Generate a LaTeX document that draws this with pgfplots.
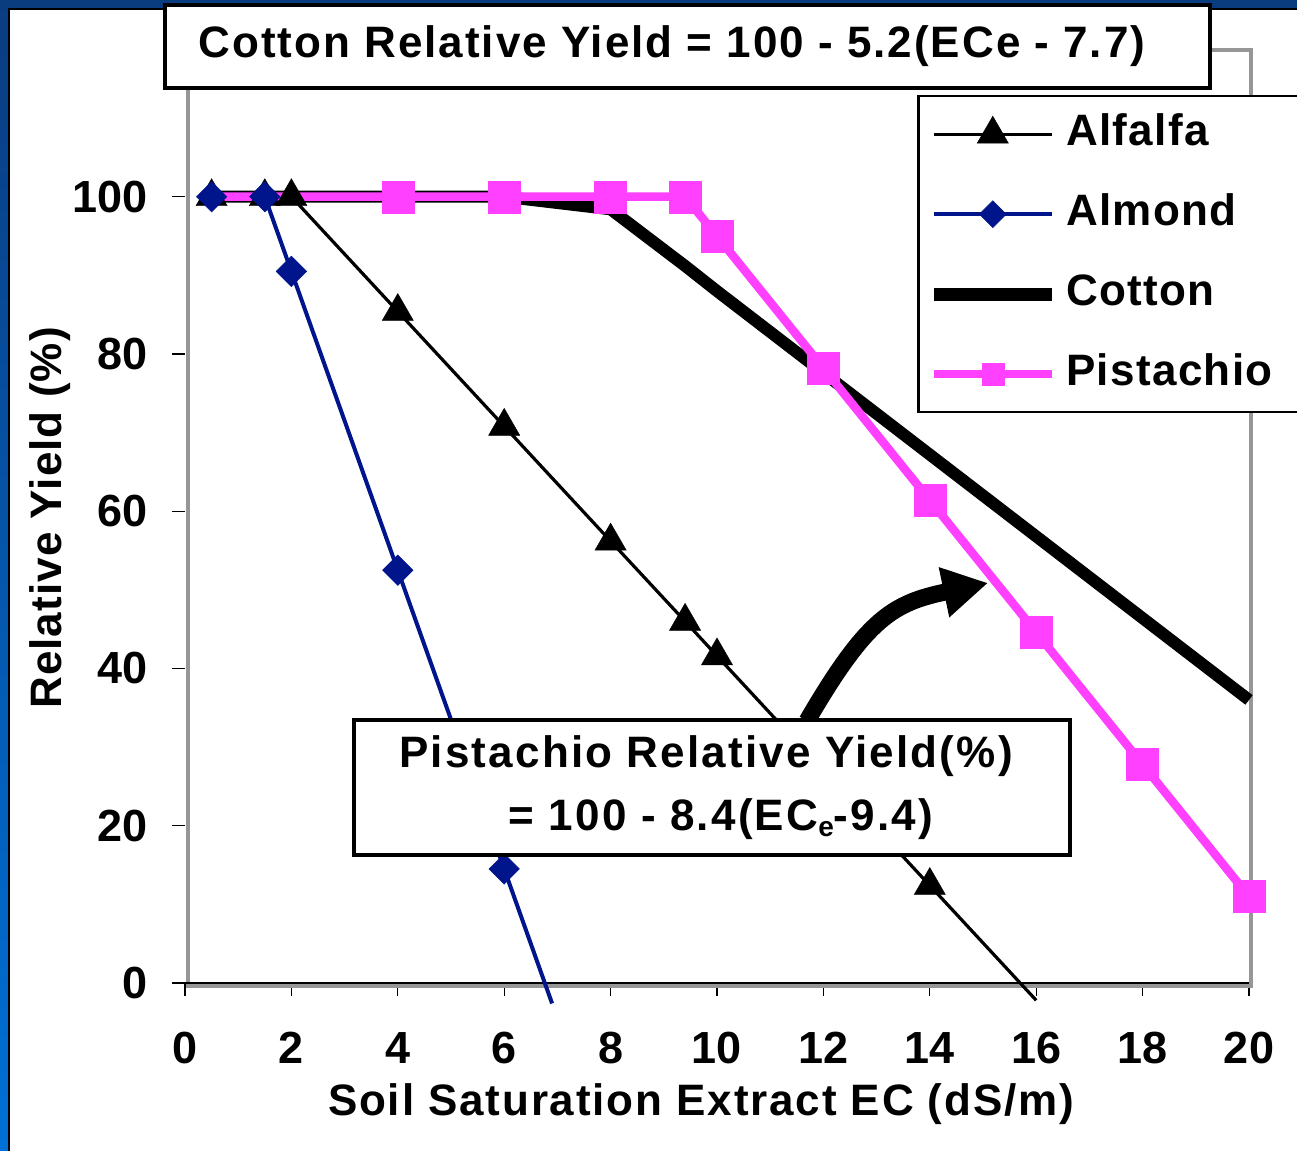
\documentclass[border=0pt]{standalone}
\usepackage{fontspec}
\setmainfont{Liberation Sans}
\newfontfamily\lsTitle[LetterSpace=4.5]{Liberation Sans}
\newfontfamily\lsX[LetterSpace=4.2]{Liberation Sans}
\newfontfamily\lsBox[LetterSpace=5]{Liberation Sans}
\newfontfamily\lsY[LetterSpace=2.5]{Liberation Sans}
\newfontfamily\lsLeg[LetterSpace=3]{Liberation Sans}
\usepackage{pgfplots}
\pgfplotsset{compat=1.18}
\usetikzlibrary{arrows.meta}
\definecolor{almondblue}{RGB}{0,20,140}
\definecolor{pistmag}{RGB}{255,64,255}
\definecolor{framegray}{RGB}{150,150,150}
\definecolor{bgtop}{RGB}{10,60,128}
\definecolor{bgbot}{RGB}{0,112,214}
\newcommand{\bigsize}{\fontsize{44}{52}\selectfont\bfseries}
\newcommand{\tickfont}{\fontsize{45}{54}\selectfont\bfseries}
\begin{document}
\begin{tikzpicture}
\useasboundingbox (-185pt,-167pt) rectangle (1112pt,983pt);
\shade[top color=bgtop, bottom color=bgbot] (-185pt,-167pt) rectangle (1112pt,983pt);
\fill[white] (-177pt,-200pt) rectangle (1200pt,975pt);
\draw[black, line width=2pt] (-176pt,-200pt) -- (-176pt,974pt) -- (1200pt,974pt);
\begin{axis}[
  scale only axis, width=1064pt, height=933pt,
  xmin=0, xmax=20, ymin=0, ymax=118.66,
  clip=false,
  axis line style={draw=none},
  xtick={0,2,...,20}, ytick={0,20,...,100},
  tick pos=left, tick align=outside, major tick length=13pt,
  tick style={black, line width=1.2pt},
  /pgf/number format/assume math mode=true,
  ticklabel style={font=\tickfont},
  xticklabel style={anchor=north, inner sep=0pt, yshift=-36pt},
  yticklabel style={anchor=east, inner sep=0pt, xshift=-24pt},
  xlabel={Soil Saturation Extract EC (dS/m)},
  ylabel={Relative Yield (\%)},
  xlabel style={font=\lsX\bigsize, at={(axis description cs:0.485,-0.1415)}, anchor=base},
  ylabel style={font=\lsY\bigsize, at={(axis description cs:-0.1156,0.4984)}, anchor=base},
  legend style={at={(0.688,0.9518)}, anchor=north west, draw=black, line width=2.5pt, fill=white,
    inner xsep=9pt, inner ysep=17pt, font=\lsLeg\bigsize, row sep=38pt, column sep=8pt,
    nodes={inner sep=0pt, text height=32pt, text depth=10pt}},
  legend cell align=left,
  legend image code/.code={\draw[mark repeat=2,mark phase=2,#1] plot coordinates {(0pt,0pt) (59pt,0pt) (118pt,0pt)};},
]
\draw[framegray, line width=4.5pt] ([shift={(3pt,-3pt)}]rel axis cs:0,0) rectangle ([shift={(2pt,0pt)}]rel axis cs:1,1);
\draw[black, line width=2pt] (rel axis cs:0,0) -- (rel axis cs:1,0);
% lines
\addplot[black, line width=3.2pt, forget plot] coordinates {(0.5,100) (1.5,100) (2,100) (4,85.4) (6,70.8) (8,56.2) (9.4,46) (10,41.6) (12,27) (14,12.4) (16,-2.2)};
\addplot[almondblue, line width=4pt, forget plot] coordinates {(0.5,100) (1.5,100) (2,90.5) (4,52.5) (6,14.5) (6.9,-2.6)};
\addplot[black, line width=12pt, line join=round, forget plot] coordinates {(0.5,100) (1.5,100) (2,100) (4,100) (6,100) (8,98.4) (9.4,91.2) (10,88) (12,77.6) (14,67.2) (16,56.8) (18,46.4) (20,36)};
\addplot[pistmag, line width=8.5pt, forget plot] coordinates {(0.5,100) (1.5,100) (2,100) (4,100) (6,100) (8,100) (9.4,100) (10,95) (12,78.2) (14,61.4) (16,44.6) (18,27.8) (20,11)};
% markers
\addplot[only marks, mark=triangle*, mark size=18pt, black, forget plot] coordinates {(0.5,100) (1.5,100) (2,100) (4,85.4) (6,70.8) (8,56.2) (9.4,46) (10,41.6) (12,27) (14,12.4)};
\addplot[only marks, mark=square*, mark size=10.8pt, mark options={rotate=45}, almondblue, forget plot] coordinates {(0.5,100) (1.5,100) (2,90.5) (4,52.5) (6,14.5)};
\addplot[only marks, mark=square*, mark size=16pt, pistmag, forget plot] coordinates {(4,100) (6,100) (8,100) (9.4,100) (10,95) (12,78.2) (14,61.4) (16,44.6) (18,27.8) (20,11)};
% legend
\addlegendimage{black, line width=3pt, mark=triangle*, mark size=18pt, mark options={line width=0.5pt}}
\addlegendentry{Alfalfa}
\addlegendimage{almondblue, line width=4pt, mark=square*, mark size=9.5pt, mark options={rotate=45, line width=0.5pt}}
\addlegendentry{Almond}
\addlegendimage{black, line width=13pt}
\addlegendentry{Cotton}
\addlegendimage{pistmag, line width=8.5pt, mark=square*, mark size=11pt, mark options={line width=0.5pt}}
\addlegendentry{\makebox[260pt][l]{Pistachio}}
\end{axis}
\draw[line width=17pt, -{Triangle[width=48pt, length=45pt]}] (622pt,262pt) .. controls (682pt,365pt) and (708pt,380pt) .. (803pt,400pt);
\draw[line width=3.5pt, fill=white] (169pt,263pt) rectangle (885pt,128pt);
\node[anchor=base] at (521pt,215pt) {\lsBox\bigsize Pistachio Relative Yield(\%)};
\node[anchor=base] at (536pt,152pt) {\lsBox\bigsize = 100 - 8.4(EC\raisebox{-6pt}{\fontsize{28}{30}\selectfont e}-9.4)};
\draw[line width=3.5pt, fill=white] (-20pt,978pt) rectangle (1025pt,895pt);
\node[anchor=base] at (487pt,925pt) {\lsTitle\bigsize Cotton Relative Yield = 100 - 5.2(ECe - 7.7)};
\end{tikzpicture}
\end{document}
